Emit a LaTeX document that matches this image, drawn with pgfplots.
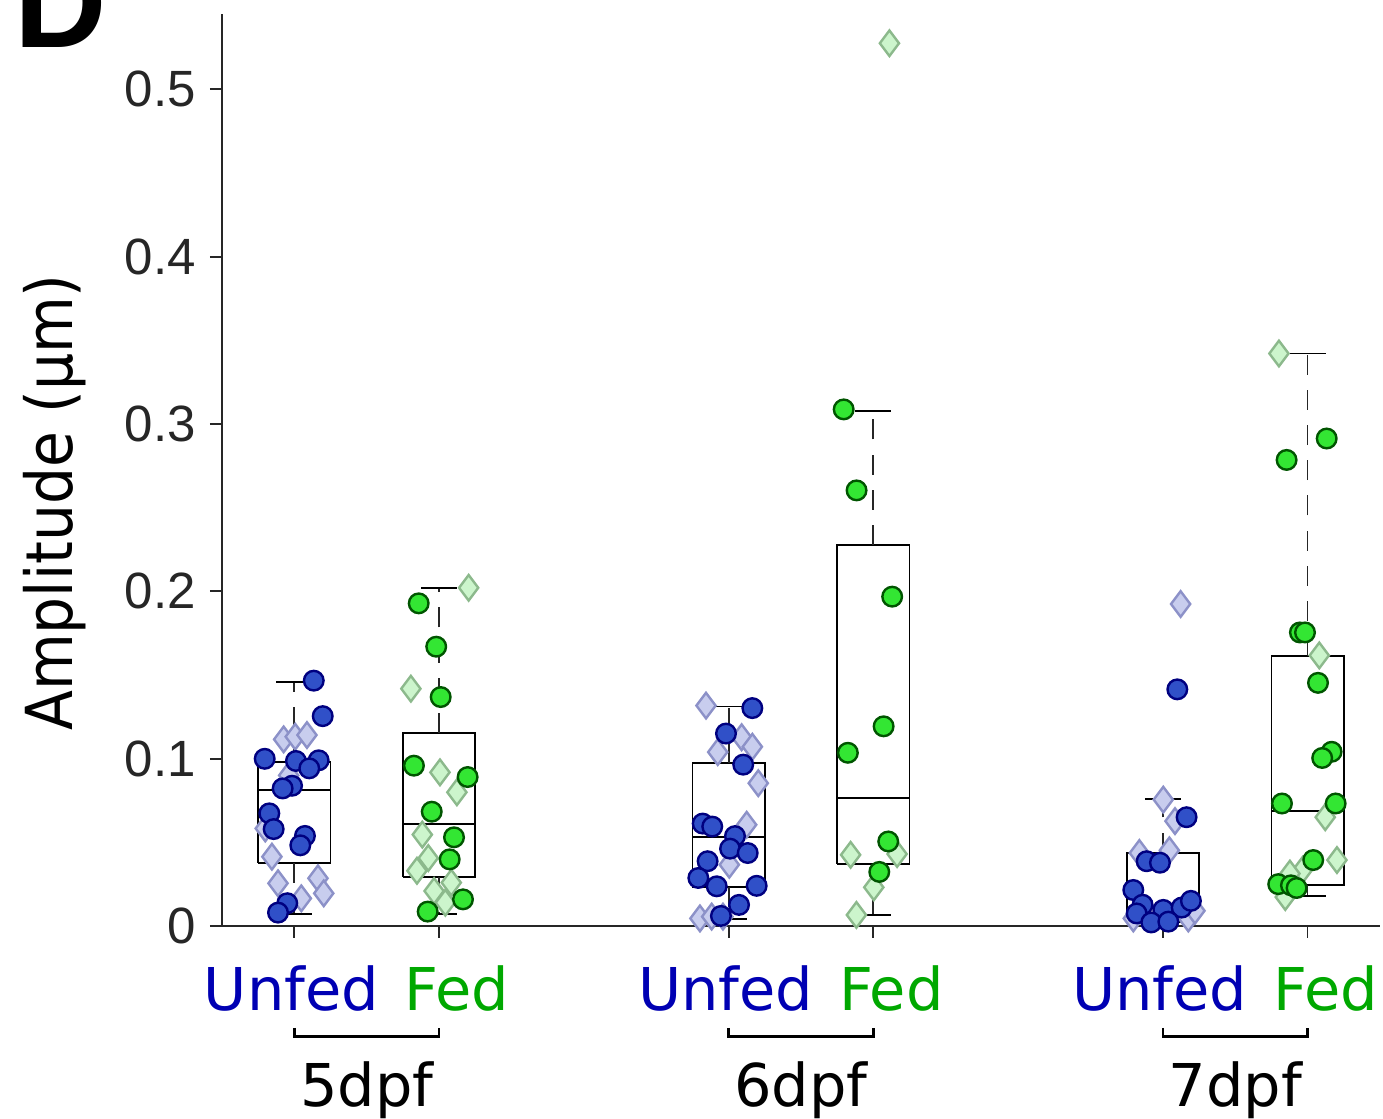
\documentclass[border=0pt]{standalone}
\usepackage{pgfplots}
\pgfplotsset{compat=1.18}
\usepackage{pgfplotstable}
\usepackage{fontspec}
\setmainfont{DejaVu Sans}
\newfontfamily\libsans{Liberation Sans}
\newfontfamily\dvcond{DejaVu Sans Condensed}
\definecolor{axgray}{RGB}{38,38,38}
\definecolor{lblblue}{RGB}{0,0,179}
\definecolor{lblgreen}{RGB}{0,168,0}
\definecolor{ucfill}{RGB}{48,80,200}
\definecolor{ucedge}{RGB}{0,0,128}
\definecolor{udfill}{RGB}{200,205,238}
\definecolor{udedge}{RGB}{140,145,200}
\definecolor{fcfill}{RGB}{51,230,51}
\definecolor{fcedge}{RGB}{0,85,0}
\definecolor{fdfill}{RGB}{204,245,204}
\definecolor{fdedge}{RGB}{140,185,140}

% Unfed circles
\pgfplotstableread{
x y
1.134 0.1466
1.196 0.1254
0.795 0.0999
1.011 0.0986
1.168 0.0990
1.103 0.0942
0.984 0.0838
0.919 0.0822
0.827 0.0673
0.857 0.0579
1.073 0.0538
1.041 0.0482
0.951 0.0136
0.887 0.0080
4.164 0.1302
3.982 0.1150
4.101 0.0964
3.821 0.0612
3.887 0.0594
4.044 0.0537
4.010 0.0462
4.132 0.0436
3.855 0.0387
3.791 0.0287
3.918 0.0237
4.194 0.0240
4.072 0.0126
3.947 0.0060
7.100 0.1414
7.164 0.0650
6.888 0.0387
6.980 0.0378
6.796 0.0215
6.860 0.0127
6.819 0.0075
7.003 0.0096
7.130 0.0110
7.194 0.0150
6.920 0.0021
7.038 0.0026
}\ucirc
% Unfed diamonds
\pgfplotstableread{
x y
0.926 0.1115
1.006 0.1131
1.087 0.1141
0.961 0.0900
0.799 0.0583
0.845 0.0414
0.887 0.0255
1.163 0.0285
1.203 0.0195
1.048 0.0165
3.844 0.1317
4.090 0.1128
3.925 0.1039
4.164 0.1071
4.205 0.0853
4.125 0.0605
4.005 0.0366
3.802 0.0045
3.883 0.0056
3.961 0.0056
7.123 0.1924
7.003 0.0755
7.084 0.0627
7.045 0.0452
6.838 0.0436
6.796 0.0045
7.176 0.0045
7.222 0.0091
}\udiam
% Fed circles
\pgfplotstableread{
x y
1.859 0.1928
1.980 0.1669
2.011 0.1368
1.826 0.0958
2.197 0.0890
1.949 0.0683
2.103 0.0530
2.073 0.0398
2.165 0.0159
1.921 0.0086
4.795 0.3087
4.884 0.2603
5.130 0.1968
5.071 0.1193
4.824 0.1035
5.103 0.0505
5.041 0.0323
8.132 0.2913
7.855 0.2785
7.947 0.1754
7.982 0.1754
8.072 0.1453
8.166 0.1041
8.101 0.1004
7.823 0.0732
8.194 0.0732
8.039 0.0394
7.797 0.0250
7.885 0.0243
7.924 0.0227
}\fcirc
% Fed diamonds
\pgfplotstableread{
x y
2.204 0.2021
1.805 0.1418
2.006 0.0918
2.123 0.0799
1.884 0.0546
1.925 0.0406
1.847 0.0330
2.084 0.0259
1.965 0.0209
2.043 0.0139
4.843 0.0425
5.164 0.0430
5.003 0.0231
4.883 0.0066
5.111 0.5275
7.802 0.3421
8.081 0.1617
8.122 0.0650
8.203 0.0394
7.966 0.0336
7.878 0.0313
7.846 0.0173
}\fdiam

\newcommand{\UF}{{\color{lblblue}Unfed\kern1.5pt}}
\newcommand{\FD}{{\color{lblgreen}\kern9pt Fed}}

\begin{document}
\begin{tikzpicture}
\begin{axis}[
  name=ax, scale only axis, width=289.5pt, height=228pt,
  xmin=0.5, xmax=8.5, ymin=0, ymax=0.545,
  axis x line*=bottom, axis y line*=left,
  axis line style={color=axgray, line width=0.45pt},
  tick align=outside, major tick length=3pt,
  tick style={color=axgray, line width=0.45pt},
  xtick={1,2,4,5,7,8},
  xticklabels={\UF,\FD,\UF,\FD,\UF,\FD},
  xticklabel style={font=\fontsize{14.75}{16}\selectfont, yshift=-3.4pt},
  ytick={0,0.1,0.2,0.3,0.4,0.5},
  yticklabels={0,0.1,0.2,0.3,0.4,0.5},
  yticklabel style={font=\libsans\fontsize{12.75}{14}\selectfont, text=axgray},
  ylabel={Amplitude (µm)},
  ylabel style={font=\dvcond\fontsize{16.2}{18}\selectfont, at={(rel axis cs:-0.1289,0.4644)}, anchor=base},
  clip=false,
  boxline/.style={black, line width=0.45pt, no marks},
  whisk/.style={black!85, line width=0.45pt, no marks, dash pattern=on 5pt off 3.8pt},
]
% ---- boxes (q1..q3 rectangle, median) ----
\addplot[boxline] coordinates {(0.75,0.0374) (1.25,0.0374) (1.25,0.0980) (0.75,0.0980) (0.75,0.0374)};
\addplot[boxline] coordinates {(0.75,0.0814) (1.25,0.0814)};
\addplot[boxline] coordinates {(1.75,0.0295) (2.25,0.0295) (2.25,0.1153) (1.75,0.1153) (1.75,0.0295)};
\addplot[boxline] coordinates {(1.75,0.0609) (2.25,0.0609)};
\addplot[boxline] coordinates {(3.75,0.0231) (4.25,0.0231) (4.25,0.0975) (3.75,0.0975) (3.75,0.0231)};
\addplot[boxline] coordinates {(3.75,0.0530) (4.25,0.0530)};
\addplot[boxline] coordinates {(4.75,0.0372) (5.25,0.0372) (5.25,0.2277) (4.75,0.2277) (4.75,0.0372)};
\addplot[boxline] coordinates {(4.75,0.0765) (5.25,0.0765)};
\addplot[boxline] coordinates {(6.75,0.0056) (7.25,0.0056) (7.25,0.0438) (6.75,0.0438) (6.75,0.0056)};
\addplot[boxline] coordinates {(6.75,0.0110) (7.25,0.0110)};
\addplot[boxline] coordinates {(7.75,0.0243) (8.25,0.0243) (8.25,0.1612) (7.75,0.1612) (7.75,0.0243)};
\addplot[boxline] coordinates {(7.75,0.0685) (8.25,0.0685)};
% ---- whiskers ----
\addplot[whisk] coordinates {(1,0.0980) (1,0.1456)};
\addplot[whisk] coordinates {(1,0.0374) (1,0.0072)};
\addplot[whisk] coordinates {(2,0.1153) (2,0.2021)};
\addplot[whisk] coordinates {(2,0.0295) (2,0.0072)};
\addplot[whisk] coordinates {(4,0.0975) (4,0.1312)};
\addplot[whisk] coordinates {(4,0.0231) (4,0.0043)};
\addplot[whisk] coordinates {(5,0.2277) (5,0.3076)};
\addplot[whisk] coordinates {(5,0.0372) (5,0.0066)};
\addplot[whisk] coordinates {(7,0.0438) (7,0.0757)};
\addplot[whisk] coordinates {(7,0.0056) (7,0.0025)};
\addplot[whisk] coordinates {(8,0.1612) (8,0.3421)};
\addplot[whisk] coordinates {(8,0.0243) (8,0.0180)};
% ---- whisker caps ----
\addplot[boxline] coordinates {(0.875,0.1456) (1.125,0.1456)};
\addplot[boxline] coordinates {(0.875,0.0072) (1.125,0.0072)};
\addplot[boxline] coordinates {(1.875,0.2021) (2.125,0.2021)};
\addplot[boxline] coordinates {(1.875,0.0072) (2.125,0.0072)};
\addplot[boxline] coordinates {(3.875,0.1312) (4.125,0.1312)};
\addplot[boxline] coordinates {(3.875,0.0043) (4.125,0.0043)};
\addplot[boxline] coordinates {(4.875,0.3076) (5.125,0.3076)};
\addplot[boxline] coordinates {(4.875,0.0066) (5.125,0.0066)};
\addplot[boxline] coordinates {(6.875,0.0757) (7.125,0.0757)};
\addplot[boxline] coordinates {(6.875,0.0025) (7.125,0.0025)};
\addplot[boxline] coordinates {(7.875,0.3421) (8.125,0.3421)};
\addplot[boxline] coordinates {(7.875,0.0180) (8.125,0.0180)};
% ---- points ----
\addplot[only marks, mark=diamond*, mark size=3.2pt, mark options={fill=udfill, draw=udedge, line width=0.6pt}] table {\udiam};
\addplot[only marks, mark=diamond*, mark size=3.2pt, mark options={fill=fdfill, draw=fdedge, line width=0.6pt}] table {\fdiam};
\addplot[only marks, mark=*, mark size=2.45pt, mark options={fill=ucfill, draw=ucedge, line width=0.6pt}] table {\ucirc};
\addplot[only marks, mark=*, mark size=2.45pt, mark options={fill=fcfill, draw=fcedge, line width=0.6pt}] table {\fcirc};

\foreach \a/\lab in {1/5dpf,4/6dpf,7/7dpf}{
  \pgfmathsetmacro{\b}{\a+1}
  \pgfmathsetmacro{\c}{\a+0.5}
  \edef\tmp{\noexpand\draw[line width=0.65pt, black] ([yshift=-25.5pt]axis cs:\a,0) -- ([yshift=-27.7pt]axis cs:\a,0) -- ([yshift=-27.7pt]axis cs:\b,0) -- ([yshift=-25.5pt]axis cs:\b,0);
    \noexpand\node[anchor=base, font=\noexpand\fontsize{14.75}{16}\noexpand\selectfont] at ([yshift=-45.25pt]axis cs:\c,0) {\lab};}
  \tmp
}
\coordinate (O) at (rel axis cs:0,0);
\end{axis}
\node[anchor=base west, inner sep=0pt, font=\libsans\bfseries\fontsize{32}{36}\selectfont] at ([xshift=-52pt,yshift=219.5pt]O) {D};
\pgfresetboundingbox
\path[use as bounding box] ([xshift=-55.5pt,yshift=-48.25pt]O) rectangle ([xshift=290.25pt,yshift=231.5pt]O);
\end{tikzpicture}
\end{document}
